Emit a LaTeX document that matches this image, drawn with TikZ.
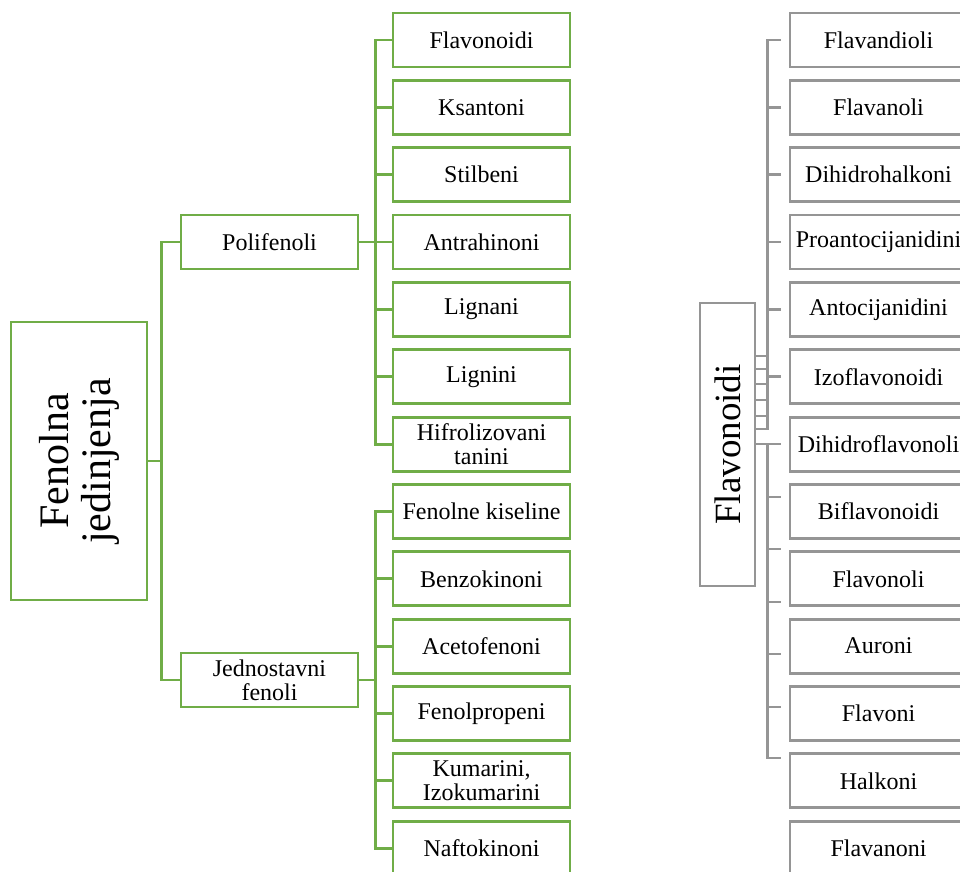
\documentclass[tikz,border=0pt]{standalone}
\usepackage{fontspec}
\setmainfont{Liberation Serif}
\usetikzlibrary{calc}
\definecolor{gr}{HTML}{70AD47}
\definecolor{gy}{HTML}{959595}
\begin{document}
\begin{tikzpicture}[x=1pt,y=-1pt,
  gbox/.style={draw=gr,line width=2.8pt,fill=white,minimum width=177pt,minimum height=54pt,inner sep=0pt,
    font=\fontsize{24}{24}\selectfont,align=center},
  ybox/.style={draw=gy,line width=2.8pt,fill=white,minimum width=177pt,minimum height=54pt,inner sep=0pt,
    font=\fontsize{24}{24}\selectfont,align=center},
  gline/.style={draw=gr,line width=2.8pt},
  yline/.style={draw=gy,line width=2.8pt}]
\useasboundingbox (0,0) rectangle (960,871);
\clip (0,0) rectangle (960,871);
% left main (rotated: south anchor is on the right side)
\node[gbox,rotate=90,font=\fontsize{42}{42}\selectfont,
  minimum width=278pt,minimum height=136pt] (F) at (79,461) {Fenolna\\jedinjenja};
\node[gbox] (P) at (269.5,242) {Polifenoli};
\node[gbox] (J) at (269.5,680) {Jednostavni\\fenoli};
% left column
\foreach \i/\t in {0/Flavonoidi,1/Ksantoni,2/Stilbeni,3/Antrahinoni,4/Lignani,5/Lignini,
  6/{Hifrolizovani\\tanini},7/Fenolne kiseline,8/Benzokinoni,9/Acetofenoni,10/Fenolpropeni,
  11/{Kumarini,\\Izokumarini},12/Naftokinoni}
  \node[gbox] (L\i) at (481.5,{40+67.35*\i}) {\t};
% right column
\foreach \i/\t in {0/Flavandioli,1/Flavanoli,2/Dihidrohalkoni,3/Proantocijanidini,4/Antocijanidini,
  5/Izoflavonoidi,6/Dihidroflavonoli,7/Biflavonoidi,8/Flavonoli,9/Auroni,10/Flavoni,11/Halkoni,12/Flavanoni}
  \node[ybox] (R\i) at (878.5,{40+67.35*\i}) {\t};
\node[ybox,rotate=90,minimum width=283pt,minimum height=55pt,font=\fontsize{37}{37}\selectfont] (V) at (727.5,444.5) {Flavonoidi};
% left connectors
\draw[gline] (P.west) -- ++(-18,0) coordinate (b1) |- (J.west);
\draw[gline] (F.south) -- (F.south -| b1);
\draw[gline] (L0.west) -- ++(-16,0) coordinate (b2) |- (L6.west);
\foreach \i in {1,...,5} \draw[gline] (L\i.west) -- (L\i.west -| b2);
\draw[gline] (P.east) -- (P.east -| b2);
\draw[gline] (L7.west) -- ++(-16,0) coordinate (b3) |- (L12.west);
\foreach \i in {8,...,11} \draw[gline] (L\i.west) -- (L\i.west -| b3);
\draw[gline] (J.east) -- (J.east -| b3);
% right connectors
\coordinate (t0) at ($(R0.west)+(-8,0)$);
\coordinate (c1) at ($(R0.west)+(-21,0)$);
\coordinate (c1b) at (c1 |- 0,429);
\draw[yline] (t0) -- (c1) -- (c1b) -- (c1b -| V.south);
\foreach \i in {1,...,5} \draw[yline] ($(R\i.west)+(-8,0)$) -- ($(R\i.west)+(-21,0)$);
\foreach \y in {356,369,384,400,416} \draw[yline] (V.south |- 0,\y) -- (c1 |- 0,\y);
\coordinate (c2) at (c1 |- 0,444);
\coordinate (c2b) at (c1 |- 0,758);
\draw[yline] (V.south |- 0,444) -- (t0 |- 0,444);
\draw[yline] (c2) -- (c2b) -- (t0 |- c2b);
\foreach \y in {497,549,602,654,707} \draw[yline] (c1 |- 0,\y) -- (t0 |- 0,\y);
\end{tikzpicture}
\end{document}
